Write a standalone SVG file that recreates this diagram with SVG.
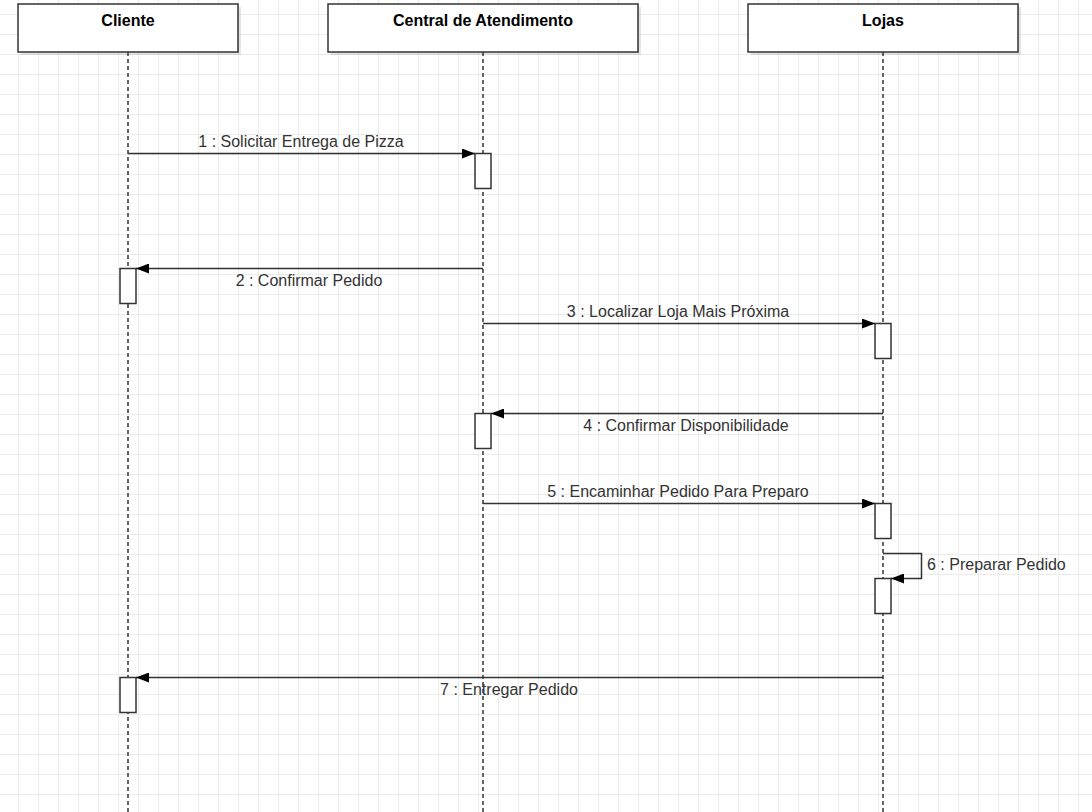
<svg xmlns="http://www.w3.org/2000/svg" width="1092" height="812" viewBox="0 0 1092 812">
<defs>
<pattern id="grid" x="18" y="14" width="20" height="20" patternUnits="userSpaceOnUse">
<path d="M0 0.5 H20 M0.5 0 V20" fill="none" stroke="#ececec" stroke-width="1"/>
</pattern>
<marker id="arr" viewBox="0 0 13 10" refX="13" refY="5" markerWidth="13" markerHeight="10" markerUnits="userSpaceOnUse" orient="auto">
<path d="M0 0 L13 5 L0 10 Z" fill="#000"/>
</marker>
<style>
.head{fill:#fff;stroke:#333;stroke-width:1.5}
.shadow{fill:#000;opacity:0.1}
.ht{font-family:"Liberation Sans",Arial,sans-serif;font-size:16px;font-weight:bold;fill:#000;text-anchor:middle}
.life{stroke:#333;stroke-width:1.5;stroke-dasharray:4 3;fill:none}
.act{fill:#fff;stroke:#333;stroke-width:1.5}
.msg{stroke:#333;stroke-width:1.5;fill:none;marker-end:url(#arr)}
.lt{font-family:"Liberation Sans",Arial,sans-serif;font-size:16px;fill:#333;text-anchor:middle}
</style>
</defs>
<rect width="1092" height="812" fill="#fff"/>
<rect width="1092" height="812" fill="url(#grid)"/>

<g id="cliente">
<rect class="shadow" x="21" y="7" width="220" height="48"/>
<rect class="head" x="18" y="4" width="220" height="48"/>
<text class="ht" x="128" y="25.5">Cliente</text>
<line class="life" x1="128" y1="52" x2="128" y2="812"/>
</g>
<g id="central">
<rect class="shadow" x="331" y="7" width="310" height="48"/>
<rect class="head" x="328" y="4" width="310" height="48"/>
<text class="ht" x="483" y="25.5">Central de Atendimento</text>
<line class="life" x1="483" y1="52" x2="483" y2="812"/>
</g>
<g id="lojas">
<rect class="shadow" x="751" y="7" width="270" height="48"/>
<rect class="head" x="748" y="4" width="270" height="48"/>
<text class="ht" x="883" y="25.5">Lojas</text>
<line class="life" x1="883" y1="52" x2="883" y2="812"/>
</g>

<g id="activations">
<rect class="act" x="475" y="153.5" width="16" height="35"/>
<rect class="act" x="120" y="268.5" width="16" height="35"/>
<rect class="act" x="875" y="323.5" width="16" height="35"/>
<rect class="act" x="475" y="413.5" width="16" height="35"/>
<rect class="act" x="875" y="503.5" width="16" height="35"/>
<rect class="act" x="875" y="578.5" width="16" height="35"/>
<rect class="act" x="120" y="677.5" width="16" height="35"/>
</g>

<g id="connectors">
<line class="msg" x1="128" y1="153.5" x2="475" y2="153.5"/>
<text class="lt" x="301" y="146.5">1 : Solicitar Entrega de Pizza</text>
<line class="msg" x1="483" y1="268.5" x2="136" y2="268.5"/>
<text class="lt" x="309" y="286">2 : Confirmar Pedido</text>
<line class="msg" x1="483" y1="323.5" x2="875" y2="323.5"/>
<text class="lt" x="678" y="316.5">3 : Localizar Loja Mais Próxima</text>
<line class="msg" x1="883" y1="413.5" x2="491" y2="413.5"/>
<text class="lt" x="686" y="431">4 : Confirmar Disponibilidade</text>
<line class="msg" x1="483" y1="503.5" x2="875" y2="503.5"/>
<text class="lt" x="678" y="496.5">5 : Encaminhar Pedido Para Preparo</text>
<path class="msg" d="M883 553.5 H921.5 V578.5 H891"/>
<text class="lt" x="927" y="569.5" style="text-anchor:start">6 : Preparar Pedido</text>
<line class="msg" x1="883" y1="677.5" x2="136" y2="677.5"/>
<text class="lt" x="509" y="695">7 : Entregar Pedido</text>
</g>
</svg>
